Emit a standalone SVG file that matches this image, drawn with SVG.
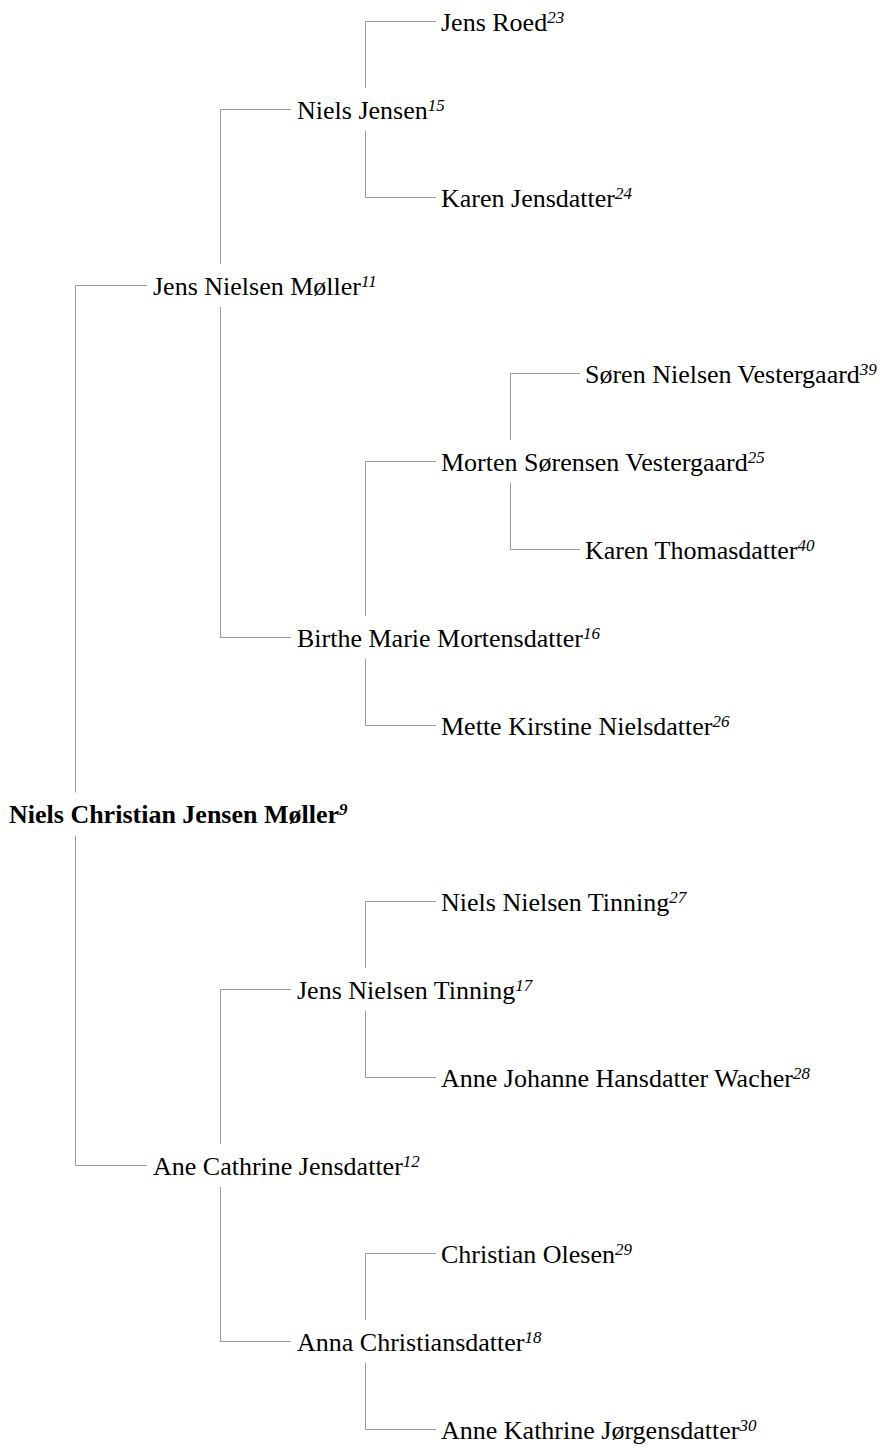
<svg xmlns="http://www.w3.org/2000/svg" width="890" height="1448" viewBox="0 0 890 1448">
<style>
text{font-family:'Liberation Serif','Times New Roman',Tinos,'DejaVu Serif',serif;font-size:26px;fill:#000}
.root{font-weight:bold}
.sup{font-style:italic;font-size:17px}
#connectors path{fill:none;stroke:#999;stroke-width:1}
</style>
<rect width="890" height="1448" fill="#fff"/>
<g id="connectors">
<path d="M75.5 792.5V285.5H147M75.5 835.5V1165.5H147"/>
<path d="M220.5 264V109.5H291M220.5 307V637.5H291"/>
<path d="M365.5 88V21.5H436M365.5 131V197.5H436"/>
<path d="M365.5 616V461.5H436M365.5 659V725.5H436"/>
<path d="M510.5 440V373.5H580M510.5 483V549.5H580"/>
<path d="M220.5 1144V989.5H291M220.5 1187V1341.5H291"/>
<path d="M365.5 968V901.5H436M365.5 1011V1077.5H436"/>
<path d="M365.5 1320V1253.5H436M365.5 1363V1429.5H436"/>
</g>
<g id="n23"><text x="441" y="31" font-family="Liberation Serif, serif">Jens Roed<tspan class="sup" dy="-8">23</tspan></text></g>
<g id="n15"><text x="297" y="119">Niels Jensen<tspan class="sup" dy="-8">15</tspan></text></g>
<g id="n24"><text x="441" y="207">Karen Jensdatter<tspan class="sup" dy="-8">24</tspan></text></g>
<g id="n11"><text x="153" y="295">Jens Nielsen Møller<tspan class="sup" dy="-8">11</tspan></text></g>
<g id="n39"><text x="585" y="383">Søren Nielsen Vestergaard<tspan class="sup" dy="-8">39</tspan></text></g>
<g id="n25"><text x="441" y="471">Morten Sørensen Vestergaard<tspan class="sup" dy="-8">25</tspan></text></g>
<g id="n40"><text x="585" y="559">Karen Thomasdatter<tspan class="sup" dy="-8">40</tspan></text></g>
<g id="n16"><text x="297" y="647">Birthe Marie Mortensdatter<tspan class="sup" dy="-8">16</tspan></text></g>
<g id="n26"><text x="441" y="735">Mette Kirstine Nielsdatter<tspan class="sup" dy="-8">26</tspan></text></g>
<g id="n9"><text class="root" x="9" y="823">Niels Christian Jensen Møller<tspan class="sup" dy="-8">9</tspan></text></g>
<g id="n27"><text x="441" y="911">Niels Nielsen Tinning<tspan class="sup" dy="-8">27</tspan></text></g>
<g id="n17"><text x="297" y="999">Jens Nielsen Tinning<tspan class="sup" dy="-8">17</tspan></text></g>
<g id="n28"><text x="441" y="1087">Anne Johanne Hansdatter Wacher<tspan class="sup" dy="-8">28</tspan></text></g>
<g id="n12"><text x="153" y="1175">Ane Cathrine Jensdatter<tspan class="sup" dy="-8">12</tspan></text></g>
<g id="n29"><text x="441" y="1263">Christian Olesen<tspan class="sup" dy="-8">29</tspan></text></g>
<g id="n18"><text x="297" y="1351">Anna Christiansdatter<tspan class="sup" dy="-8">18</tspan></text></g>
<g id="n30"><text x="441" y="1439">Anne Kathrine Jørgensdatter<tspan class="sup" dy="-8">30</tspan></text></g>
</svg>
